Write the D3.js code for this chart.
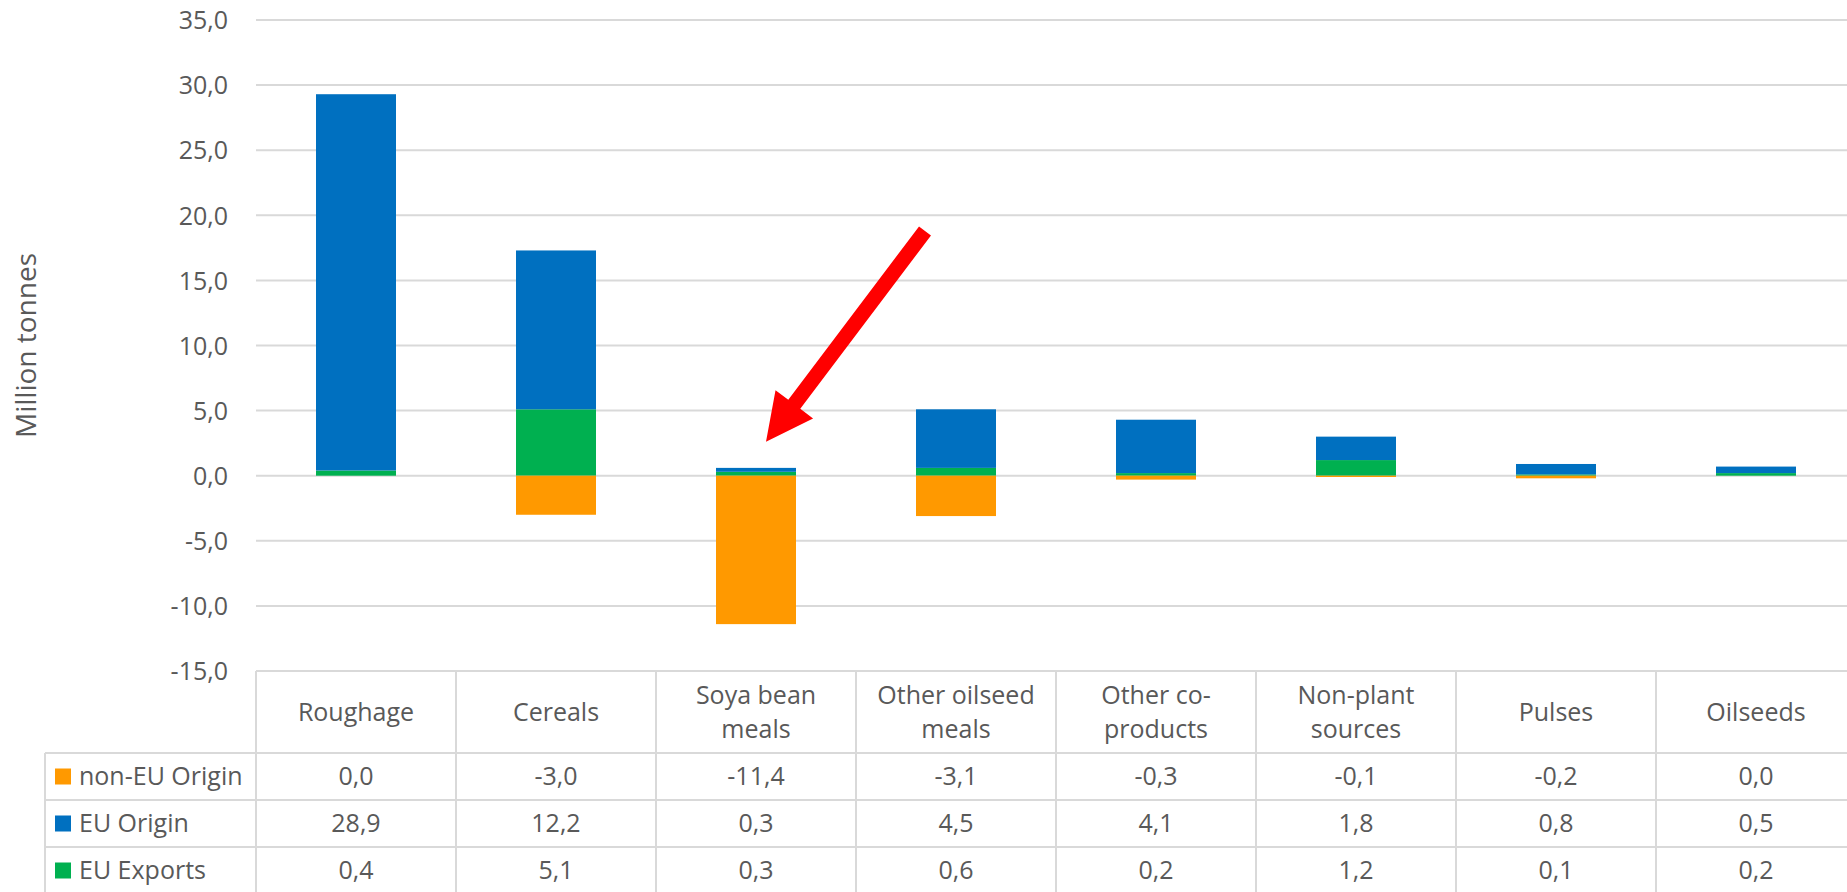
<!DOCTYPE html>
<html>
<head>
<meta charset="utf-8">
<script src="https://cdn.jsdelivr.net/npm/d3@7"></script>
<style>
  html, body { margin: 0; padding: 0; background: #fff; }
  svg { display: block; }
  text { font-family: "Open Sans", sans-serif; fill: #595959; }
</style>
</head>
<body>
<svg id="chart" width="1847" height="892"></svg>
<script>
// Feed balance by category, million tonnes
const categories = ["Roughage", "Cereals", "Soya bean meals", "Other oilseed meals",
                    "Other co-products", "Non-plant sources", "Pulses", "Oilseeds"];
const headerLines = [["Roughage"], ["Cereals"], ["Soya bean", "meals"], ["Other oilseed", "meals"],
                     ["Other co-", "products"], ["Non-plant", "sources"], ["Pulses"], ["Oilseeds"]];
const nonEUOrigin = [0.0, -3.0, -11.4, -3.1, -0.3, -0.1, -0.2, 0.0];
const euOrigin    = [28.9, 12.2, 0.3, 4.5, 4.1, 1.8, 0.8, 0.5];
const euExports   = [0.4, 5.1, 0.3, 0.6, 0.2, 1.2, 0.1, 0.2];
const seriesNames = ["non-EU Origin", "EU Origin", "EU Exports"];
const yTicks = [-15, -10, -5, 0, 5, 10, 15, 20, 25, 30, 35];

// Annotation arrow pointing at the soya bean meals bar (value units)
const arrowNote = { category: "Soya bean meals", tipValue: 2.6, tailValue: 18.8 };

const colors = { "non-EU Origin": "#ff9900", "EU Origin": "#0070c0", "EU Exports": "#00b050" };

const svg = d3.select("#chart");
const W = 1847, H = 892;
const plotLeft = 256, colW = 200;
const plotTop = 20, plotBottom = 671;

const locale = d3.formatLocale({ decimal: ",", thousands: ".", grouping: [3], currency: ["", ""], minus: "-" });
const fmt = locale.format(".1f");

const y = d3.scaleLinear().domain([-15, 35]).range([plotBottom, plotTop]);
const xCol = d3.scaleBand().domain(categories).range([plotLeft, plotLeft + colW * categories.length]).padding(0);
const x = d3.scaleBand().domain(categories).range([plotLeft, plotLeft + colW * categories.length])
  .paddingInner(0.6).paddingOuter(0.3);

// Gridlines
svg.append("g").selectAll("line").data(yTicks).join("line")
  .attr("x1", plotLeft).attr("x2", W)
  .attr("y1", d => y(d)).attr("y2", d => y(d))
  .attr("stroke", "#d9d9d9").attr("stroke-width", 2);

// Y axis labels
const yAxis = d3.axisLeft(y).tickValues(yTicks).tickFormat(fmt).tickSize(0).tickPadding(0);
const gy = svg.append("g").attr("transform", `translate(228,0)`).call(yAxis);
gy.select(".domain").remove();
gy.selectAll("text").attr("font-size", 25).attr("font-family", "Open Sans, sans-serif")
  .attr("fill", "#595959").attr("dy", "0.35em");

// Axis title
svg.append("text")
  .attr("transform", `translate(36,${(plotTop + plotBottom) / 2}) rotate(-90)`)
  .attr("text-anchor", "middle")
  .attr("font-size", 28)
  .text("Million tonnes");

// Stacked bars: exports at the base, EU origin above, non-EU origin below zero
const segments = [];
categories.forEach((c, i) => {
  segments.push({ c, s: "EU Exports", y0: 0, y1: euExports[i] });
  segments.push({ c, s: "EU Origin", y0: euExports[i], y1: euExports[i] + euOrigin[i] });
  segments.push({ c, s: "non-EU Origin", y0: 0, y1: nonEUOrigin[i] });
});
svg.append("g").selectAll("rect").data(segments.filter(d => d.y1 !== d.y0)).join("rect")
  .attr("x", d => x(d.c))
  .attr("width", x.bandwidth())
  .attr("y", d => y(Math.max(d.y0, d.y1)))
  .attr("height", d => Math.abs(y(d.y0) - y(d.y1)))
  .attr("fill", d => colors[d.s]);

// Data table
const rowTop = 671, headerH = 82, rowH = 47;
const legendLeft = 45;
const tableRight = plotLeft + colW * categories.length;
const table = svg.append("g");
const border = "#d9d9d9";

// horizontal rules
const hRules = [
  { y: rowTop, x1: plotLeft },
  { y: rowTop + headerH, x1: legendLeft },
  { y: rowTop + headerH + rowH, x1: legendLeft },
  { y: rowTop + headerH + rowH * 2, x1: legendLeft },
  { y: rowTop + headerH + rowH * 3, x1: legendLeft }
];
table.selectAll("line.h").data(hRules).join("line").attr("class", "h")
  .attr("x1", d => d.x1).attr("x2", tableRight)
  .attr("y1", d => d.y).attr("y2", d => d.y)
  .attr("stroke", border).attr("stroke-width", 2);

// vertical rules
const vRules = categories.map(c => xCol(c)).concat([tableRight]);
table.selectAll("line.v").data(vRules).join("line").attr("class", "v")
  .attr("x1", d => d).attr("x2", d => d)
  .attr("y1", rowTop).attr("y2", H + 5)
  .attr("stroke", border).attr("stroke-width", 2);
table.append("line")
  .attr("x1", legendLeft).attr("x2", legendLeft)
  .attr("y1", rowTop + headerH).attr("y2", H + 5)
  .attr("stroke", border).attr("stroke-width", 2);

// header labels
const lineGap = 34;
headerLines.forEach((lines, i) => {
  const cx = xCol(categories[i]) + colW / 2;
  const cy = rowTop + headerH / 2;
  const t = table.append("text").attr("text-anchor", "middle").attr("font-size", 25);
  lines.forEach((ln, j) => {
    t.append("tspan").attr("x", cx)
      .attr("y", cy + (j - (lines.length - 1) / 2) * lineGap)
      .attr("dy", "0.35em").text(ln);
  });
});

// series rows
const rows = [nonEUOrigin, euOrigin, euExports];
rows.forEach((vals, r) => {
  const cy = rowTop + headerH + rowH * r + rowH / 2;
  table.append("rect")
    .attr("x", 55).attr("y", cy - 8).attr("width", 16).attr("height", 16)
    .attr("fill", colors[seriesNames[r]]);
  table.append("text").attr("x", 79).attr("y", cy).attr("dy", "0.35em")
    .attr("font-size", 25).text(seriesNames[r]);
  table.selectAll(null).data(vals).join("text")
    .attr("x", (d, i) => xCol(categories[i]) + colW / 2)
    .attr("y", cy).attr("dy", "0.35em")
    .attr("text-anchor", "middle").attr("font-size", 25)
    .text(d => fmt(d));
});

// Red arrow annotation
const tipX = x(arrowNote.category) + x.bandwidth() / 2 + 10;
const tipY = y(arrowNote.tipValue);
const tailX = tipX + 159;
const tailY = y(arrowNote.tailValue);
const len = Math.hypot(tailX - tipX, tailY - tipY);
const ux = (tipX - tailX) / len, uy = (tipY - tailY) / len;   // unit vector towards tip
const px = -uy, py = ux;                                       // perpendicular
const shaftHalf = 7.5, headLen = 47, headHalf = 23.5;
const bx = tipX - ux * headLen, by = tipY - uy * headLen;
const pts = [
  [tailX + px * shaftHalf, tailY + py * shaftHalf],
  [bx + px * shaftHalf, by + py * shaftHalf],
  [bx + px * headHalf, by + py * headHalf],
  [tipX, tipY],
  [bx - px * headHalf, by - py * headHalf],
  [bx - px * shaftHalf, by - py * shaftHalf],
  [tailX - px * shaftHalf, tailY - py * shaftHalf]
];
svg.append("path")
  .attr("d", d3.line()(pts) + "Z")
  .attr("fill", "#ff0000");
</script>
</body>
</html>
